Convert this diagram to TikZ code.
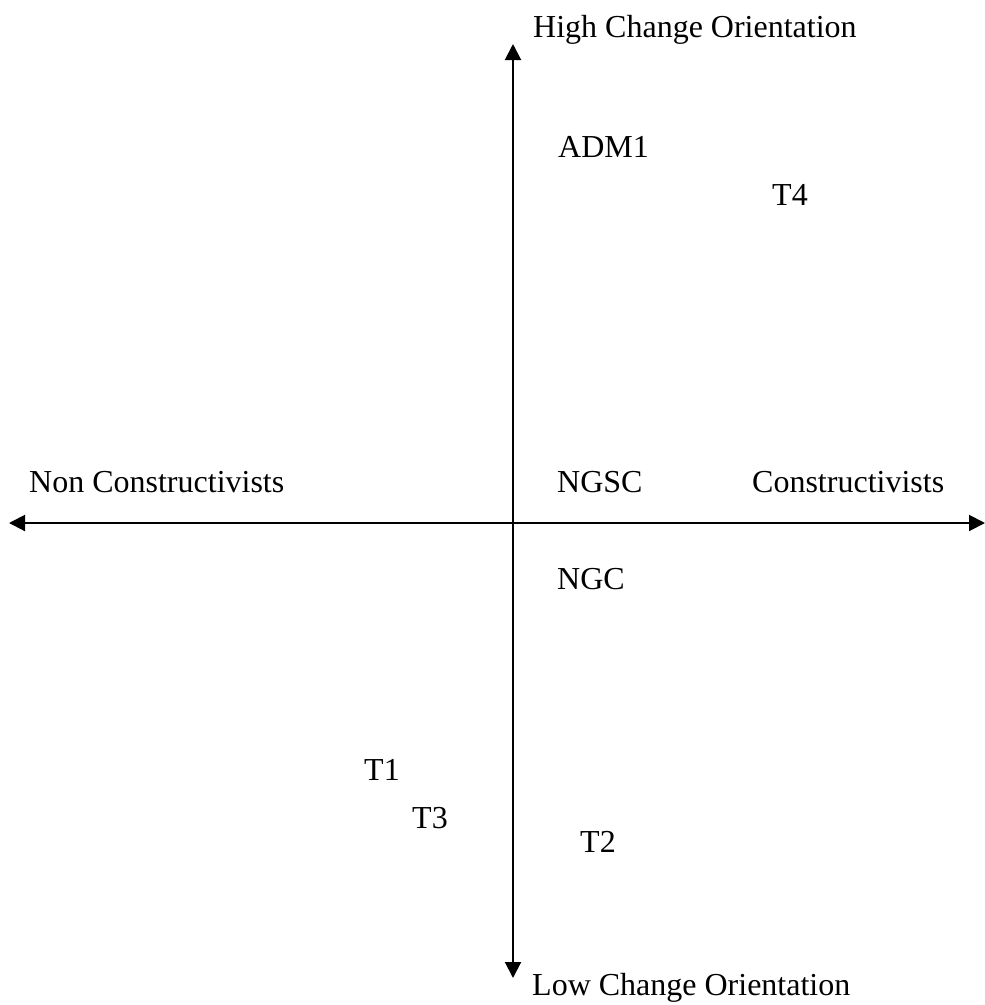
\documentclass[tikz,border=0pt]{standalone}
\usepackage{fontspec}
\setmainfont{Liberation Serif}
\usetikzlibrary{arrows.meta}
\begin{document}
\begin{tikzpicture}[x=1pt,y=-1pt,
  lbl/.style={anchor=base west,inner sep=0pt,font=\fontsize{32}{38}\selectfont},
  axis/.style={line width=2pt,{Triangle[length=16pt,width=16pt]}-{Triangle[length=16pt,width=16pt]}}]
\useasboundingbox (0,0) rectangle (985,1005);
\coordinate (left) at (9,523);
\coordinate (right) at (985,523);
\coordinate (top) at (513,44);
\coordinate (bottom) at (513,978);
\draw[axis] (left) -- (right);
\draw[axis] (top) -- (bottom);
\node[lbl] (high) at (533,37) {High Change Orientation};
\node[lbl] (low) at (532,995) {Low Change Orientation};
\node[lbl] (noncon) at (29,492) {Non Constructivists};
\node[lbl] (con) at (752,492) {Constructivists};
\node[lbl] (ngsc) at (557,492) {NGSC};
\node[lbl] (ngc) at (557,589) {NGC};
\node[lbl] (adm) at (558,157) {ADM1};
\node[lbl] (t4) at (772,205) {T4};
\node[lbl] (t1) at (364,780) {T1};
\node[lbl] (t3) at (412,828) {T3};
\node[lbl] (t2) at (580,852) {T2};
\end{tikzpicture}
\end{document}
